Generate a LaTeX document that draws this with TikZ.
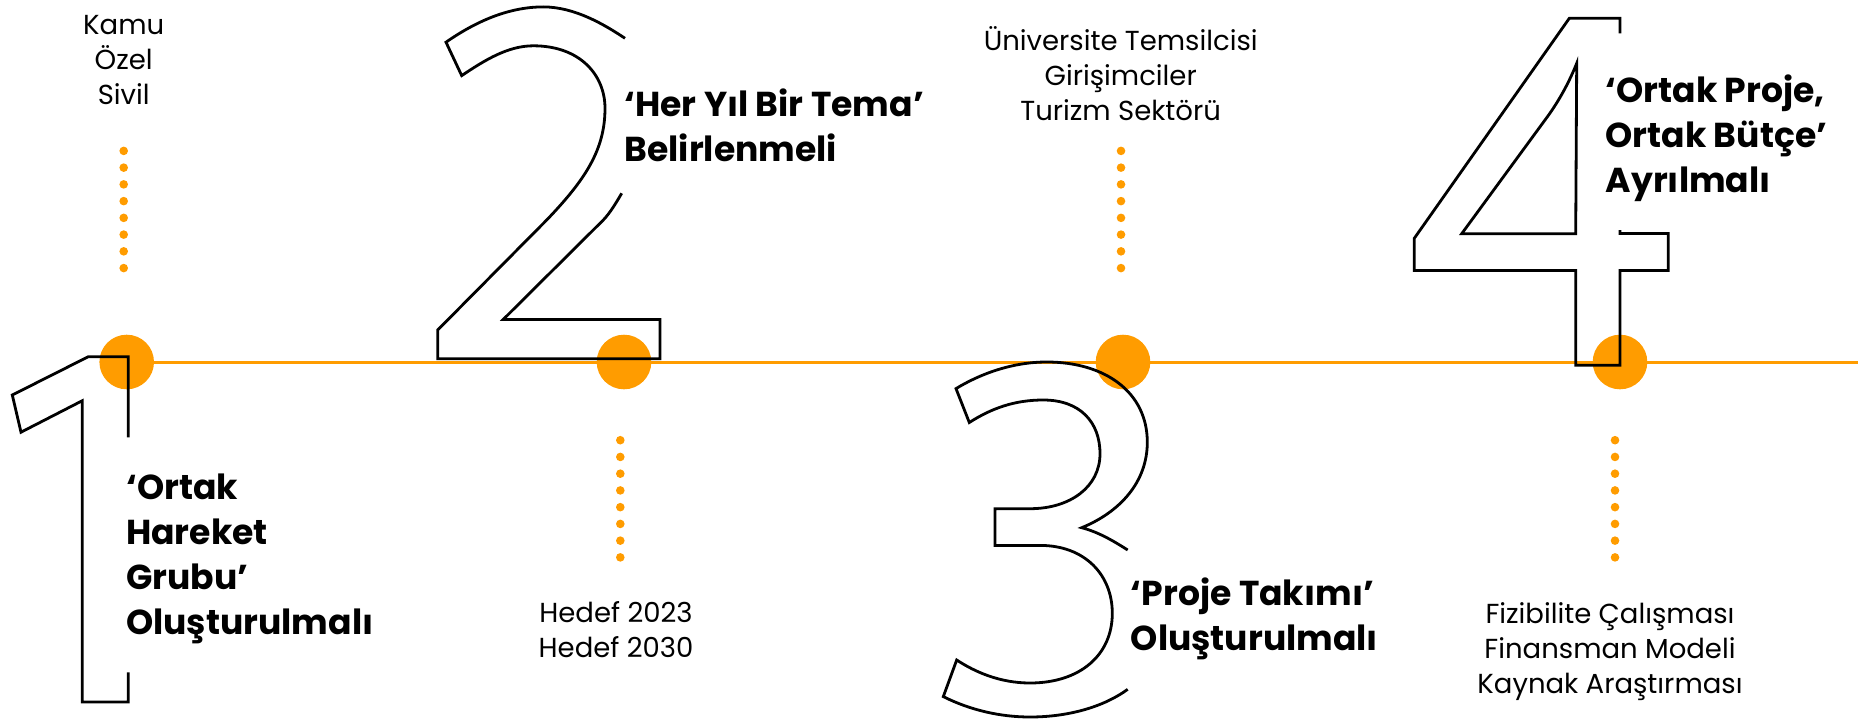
\documentclass[tikz,border=0pt]{standalone}
\usepackage{fontspec}
\setmainfont{Poppins}
\usetikzlibrary{positioning}
\definecolor{tl}{HTML}{FF9C00}
\definecolor{dg}{HTML}{000000}
\newcommand{\Note}{\fontsize{27.5}{35}\selectfont}
\newcommand{\Head}{\fontsize{34.6}{45}\selectfont\bfseries}

\begin{document}
\begin{tikzpicture}[x=1pt,y=-1pt,
  bigdot/.style={circle,fill=tl,minimum size=54.6pt,inner sep=0pt},
  dotcol/.style={tl,line width=8.6pt,line cap=round,dash pattern=on 0pt off 16.74pt},
  digit/.style={dg,line width=2.8pt,line join=miter},
  note/.style={font=\Note,align=center,anchor=base,inner sep=0pt},
  head/.style={font=\Head,align=left,anchor=base west,inner sep=0pt}]
  \useasboundingbox (0,0) rectangle (1858,720);

  % timeline
  \coordinate (end) at (1858,362);
  \node[bigdot] (d1) at (126.7,362) {};
  \node[bigdot] (d2) at (624,362) {};
  \node[bigdot] (d3) at (1123,362) {};
  \node[bigdot] (d4) at (1620,362) {};
  \draw[tl,line width=3pt] (d1.center) -- (end);

  % dotted leaders
  \draw[dotcol] (123.7,150.9) -- (123.7,284.8);
  \draw[dotcol] (620.3,440.2) -- (620.3,574.1);
  \draw[dotcol] (1121,150.9) -- (1121,284.8);
  \draw[dotcol] (1615,440.2) -- (1615,574.1);

  % digits
  \draw[digit] (128.3,672.3) -- (128.3,702) -- (82.3,702) -- (82.3,400.7) -- (21,432.2)
    -- (12.3,395) -- (88.3,356.7) -- (128.3,356.7) -- (128.3,437.3);
  \draw[digit] (625,38.3) .. controls (605,25) and (575,6.9) .. (543.3,6.9)
    .. controls (508,6.9) and (475,22) .. (446,42.2) -- (461.7,75.6)
    .. controls (485,60) and (508,45.8) .. (533.3,45.8)
    .. controls (580,45.8) and (605,75) .. (605,108.3)
    .. controls (605,150) and (585,180) .. (546.7,220) -- (437.7,330) -- (437.7,358.8)
    -- (660,358.8) -- (660,319.4) -- (503.3,319.4) -- (603.3,220)
    .. controls (610,213) and (616,203) .. (621.7,193.3);
  \draw[digit] (1127.7,550) .. controls (1112,540) and (1098,532) .. (1081.7,527.7)
    .. controls (1120,512) and (1147.3,482) .. (1147.3,442.3)
    .. controls (1147.3,392) and (1105,362) .. (1046.7,362)
    .. controls (1012,362) and (980,374) .. (956,388.6) -- (969.3,422.5)
    .. controls (992,408) and (1015,400) .. (1043.3,400)
    .. controls (1080,400) and (1100,422) .. (1100,453.7)
    .. controls (1100,487) and (1070,508.7) .. (1030,508.7) -- (995,508.7) -- (995,545.4)
    -- (1040,545.4) .. controls (1085,545.4) and (1112.3,575) .. (1112.3,613.3)
    .. controls (1112.3,655) and (1080,683) .. (1030,683)
    .. controls (1000,683) and (975,672) .. (956.7,660) -- (943.3,696.6)
    .. controls (970,710) and (1000,717) .. (1030,717)
    .. controls (1070,717) and (1105,706) .. (1127.7,689.3);
  \draw[digit] (1620,33.3) -- (1620,18.3) -- (1569.3,18.3) -- (1414.3,238.3) -- (1414.3,270.4)
    -- (1575.7,270.4) -- (1575.7,365.3) -- (1620,365.3) -- (1620,270.4) -- (1668.3,270.4)
    -- (1668.3,233.5) -- (1620,233.5) -- (1620,230);
  \draw[digit] (1461.7,233.7) -- (1575.7,233.7) -- (1576.7,63.3)
    .. controls (1570,80) and (1560,100) .. (1545,120) -- cycle;

  % notes (anchored at the last line)
  \node[note] (n1) at (123.7,104.3) {Kamu\\Özel\\Sivil};
  \node[note] (n2) at (616,657.6) {Hedef 2023\\Hedef 2030};
  \node[note] (n3) at (1120.7,120) {Üniversite Temsilcisi\\Girişimciler\\Turizm Sektörü};
  \node[note] (n4) at (1610,693.5) {Fizibilite Çalışması\\Finansman Modeli\\Kaynak Araştırması};

  % headings
  \node[head] (h1) at (126,634) {‘Ortak\\Hareket\\Grubu’\\Oluşturulmalı};
  \node[head] (h2) at (624.3,161.7) {‘Her Yıl Bir Tema’\\Belirlenmeli};
  \node[head] (h3) at (1130.7,650.7) {‘Proje Takımı’\\Oluşturulmalı};
  \node[head] (h4) at (1605.5,192) {‘Ortak Proje,\\Ortak Bütçe’\\Ayrılmalı};
\end{tikzpicture}
\end{document}
